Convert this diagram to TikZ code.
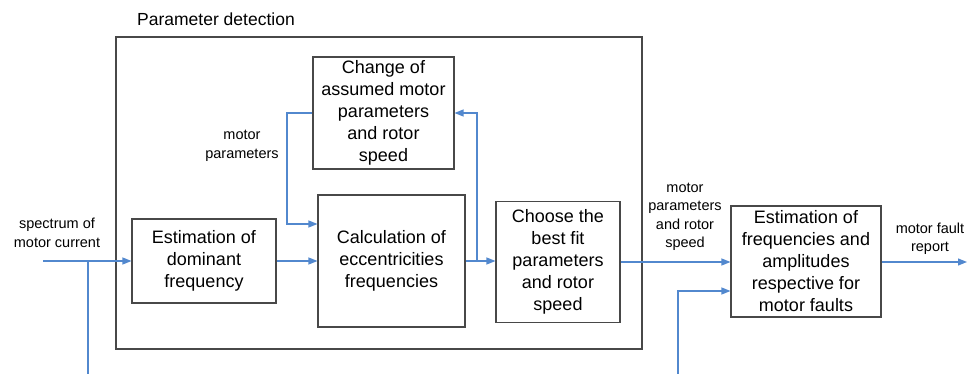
\documentclass[tikz,border=0pt]{standalone}
\usepackage{fontspec}
\setmainfont{Liberation Sans}
\usetikzlibrary{arrows.meta,calc}
\definecolor{flowblue}{RGB}{82,136,206}
\definecolor{boxgray}{RGB}{72,72,72}
\tikzset{
  block/.style={draw=boxgray, line width=1.1pt, fill=white, align=center,
    inner sep=0pt, font=\fontsize{18}{22}\selectfont},
  frame/.style={draw=boxgray, line width=1.1pt, inner sep=0pt},
  wire/.style={draw=flowblue, line width=1.2pt},
  flow/.style={wire, -{Triangle[length=9pt,width=7pt]}},
  lbl/.style={align=center, inner sep=0pt, font=\fontsize{14.5}{18.5}\selectfont},
}
\begin{document}
\begin{tikzpicture}[x=1pt,y=-1pt]
  \useasboundingbox (0,0) rectangle (970,374);

  % enclosing frame of the parameter detection stage
  \node[frame, minimum width=526pt, minimum height=312pt] (outer) at (379,193) {};
  \node[lbl, font=\fontsize{17.5}{20}\selectfont] (title) at (216,19) {Parameter detection};

  % processing blocks
  \node[block, minimum width=144pt, minimum height=84pt] (A) at (204,261)
    {Estimation of\\dominant\\frequency};
  \node[block, minimum width=147pt, minimum height=132pt] (B) at (391.5,261)
    {Calculation of\\eccentricities\\frequencies};
  \node[block, minimum width=141pt, minimum height=112pt] (C) at (383.5,113)
    {Change of\\assumed motor\\parameters\\and rotor\\speed};
  \node[block, minimum width=124pt, minimum height=121pt] (D) at (558,262)
    {Choose the\\best fit\\parameters\\and rotor\\speed};
  \node[block, minimum width=150pt, minimum height=111pt] (E) at (806,261.5)
    {Estimation of\\frequencies and\\amplitudes\\respective for\\motor faults};

  % free ends and bends of the signal lines
  \coordinate (in1) at (43,261);
  \coordinate (j1) at (88,261);
  \coordinate (bot1) at (88,374);
  \coordinate (fbcorner) at (287,224);
  \coordinate (tap) at (477,261);
  \coordinate (in2) at (678,374);
  \coordinate (reportend) at (967,262);

  % signal flow
  \draw[flow] (in1) -- (A.west);
  \draw[wire] (j1) -- (bot1);
  \draw[flow] (A) -- (B);
  \draw[flow] (C.west) -| (fbcorner) -- (fbcorner -| B.west);
  \draw[flow] (B.east) -- (B.east -| D.west);
  \draw[flow] (tap) |- (C.east);
  \draw[flow] (D.east) -- (D.east -| E.west);
  \draw[flow] (in2) |- ($(E.west)+(0,29.5)$);
  \draw[flow] (E.east |- reportend) -- (reportend);

  % signal labels
  \node[lbl] (l1) at (57,233) {spectrum of\\motor current};
  \node[lbl] (l2) at (242,146) {motor\\parameters};
  \node[lbl] (l3) at (685,217) {motor\\parameters\\and rotor\\speed};
  \node[lbl] (l4) at (930,239) {motor fault\\report};
\end{tikzpicture}
\end{document}
